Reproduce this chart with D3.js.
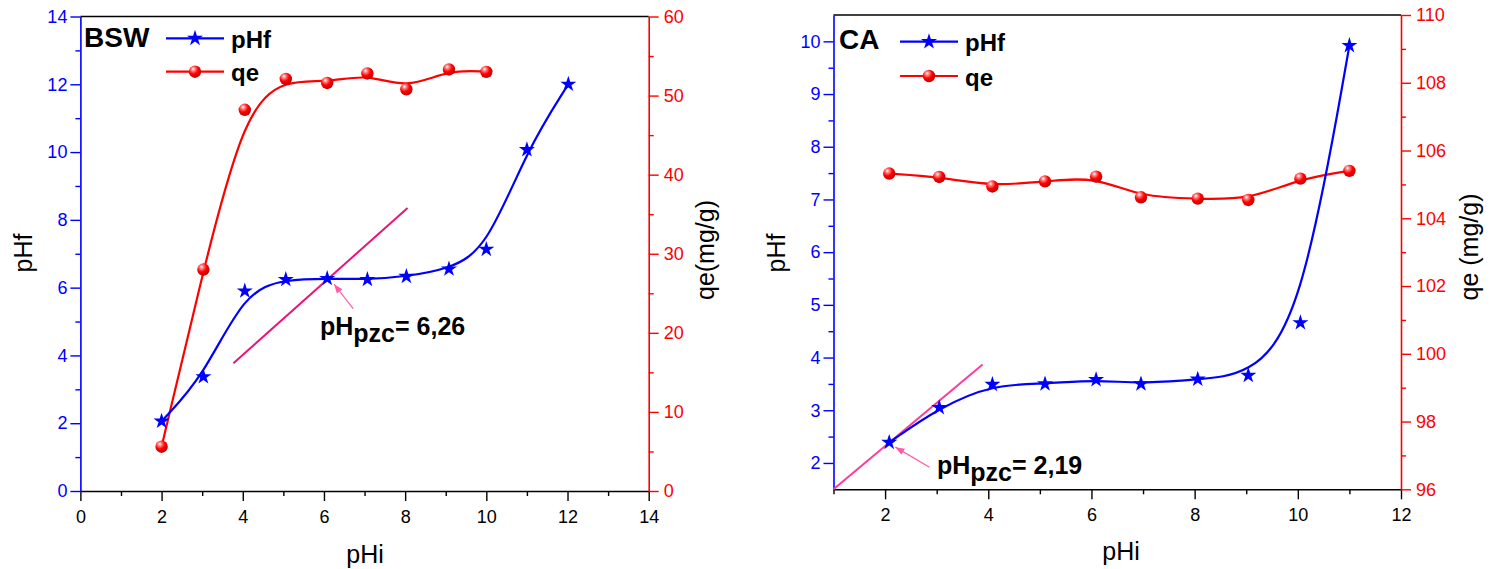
<!DOCTYPE html>
<html>
<head>
<meta charset="utf-8">
<script src="https://cdn.jsdelivr.net/npm/d3@7"></script>
<style>
  html, body { margin: 0; padding: 0; background: #fff; }
  svg { display: block; }
</style>
</head>
<body>
<div id="chart"></div>
<script>
(function () {
  "use strict";

  var FONT = "'Liberation Sans', Arial, sans-serif";
  var BLUE = "#0000ff", RED = "#ff0000";

  // ── BSW panel data ──
  var bswPhi = [2, 3.03, 4.05, 5.06, 6.08, 7.07, 8.03, 9.08, 10, 11, 12.02];
  var bswPhf = [2.06, 3.37, 5.9, 6.24, 6.27, 6.24, 6.33, 6.55, 7.13, 10.07, 12.0];
  var bswQePhi = [2, 3.03, 4.05, 5.06, 6.08, 7.07, 8.03, 9.08, 10];
  var bswQe = [5.6, 28.0, 48.2, 52.1, 51.6, 52.8, 50.8, 53.3, 53.0];
  var bswXTicks = [0, 2, 4, 6, 8, 10, 12, 14];
  var bswXMinor = [1, 3, 5, 7, 9, 11, 13];
  var bswYTicks = [0, 2, 4, 6, 8, 10, 12, 14];
  var bswYMinor = [1, 3, 5, 7, 9, 11, 13];
  var bswQeTicks = [0, 10, 20, 30, 40, 50, 60];
  var bswQeMinor = [5, 15, 25, 35, 45, 55];
  var bswTangent = [[3.77, 3.77], [8.06, 8.35]];
  var bswArrow = [[6.72, 5.38], [6.25, 6.1]];

  // ── CA panel data ──
  var caPhi = [2.08, 3.05, 4.08, 5.1, 6.09, 6.96, 8.06, 9.04, 10.05, 11.0];
  var caPhf = [2.39, 3.05, 3.49, 3.5, 3.58, 3.5, 3.59, 3.66, 4.66, 9.92];
  var caQe = [105.32, 105.22, 104.94, 105.09, 105.23, 104.62, 104.58, 104.54, 105.17, 105.4];
  var caXTicks = [2, 4, 6, 8, 10, 12];
  var caXMinor = [1, 3, 5, 7, 9, 11];
  var caYTicks = [2, 3, 4, 5, 6, 7, 8, 9, 10];
  var caYMinor = [2.5, 3.5, 4.5, 5.5, 6.5, 7.5, 8.5, 9.5];
  var caQeTicks = [96, 98, 100, 102, 104, 106, 108, 110];
  var caQeMinor = [97, 99, 101, 103, 105, 107, 109];
  var caTangent = [[1, 1.5], [3.89, 3.87]];
  var caArrow = [[2.86, 1.92], [2.2, 2.3]];

  var W = 1492, H = 569;
  var svg = d3.select("#chart").append("svg")
    .attr("width", W).attr("height", H)
    .attr("viewBox", "0 0 " + W + " " + H)
    .style("background", "#fff");

  // 3D-ish ball marker gradient
  var grad = svg.append("defs").append("radialGradient")
    .attr("id", "ball").attr("cx", "38%").attr("cy", "32%").attr("r", "70%")
    .attr("fx", "35%").attr("fy", "28%");
  grad.append("stop").attr("offset", "0%").attr("stop-color", "#ffffff");
  grad.append("stop").attr("offset", "22%").attr("stop-color", "#ff8080");
  grad.append("stop").attr("offset", "55%").attr("stop-color", "#ff0000");
  grad.append("stop").attr("offset", "100%").attr("stop-color", "#c00000");

  var star = d3.symbol().type(d3.symbolStar).size(80);

  function styleAxis(sel, color, labelColor) {
    sel.select(".domain").attr("stroke", color).attr("stroke-width", 1.6);
    sel.selectAll(".tick line").attr("stroke", color).attr("stroke-width", 1.4);
    sel.selectAll(".tick text").attr("fill", labelColor)
      .attr("font-family", FONT).attr("font-size", "18px");
  }

  function drawPanel(p) {
    var x = d3.scaleLinear().domain(p.xDomain).range([p.left, p.right]);
    var yL = d3.scaleLinear().domain(p.yDomain).range([p.bottom, p.top]);
    var yR = d3.scaleLinear().domain(p.qeDomain).range([p.bottom, p.top]);

    var g = svg.append("g");

    // top frame
    g.append("line").attr("x1", p.left).attr("x2", p.right)
      .attr("y1", p.top).attr("y2", p.top)
      .attr("stroke", "#000").attr("stroke-width", 1.6);

    // minor ticks
    g.append("g").attr("transform", "translate(0," + p.bottom + ")")
      .call(d3.axisBottom(x).tickValues(p.xMinor).tickSize(5).tickFormat(""))
      .call(function (s) { s.select(".domain").remove(); s.selectAll("line").attr("stroke", "#000").attr("stroke-width", 1.4); });
    g.append("g").attr("transform", "translate(" + p.left + ",0)")
      .call(d3.axisLeft(yL).tickValues(p.yMinor).tickSize(5).tickFormat(""))
      .call(function (s) { s.select(".domain").remove(); s.selectAll("line").attr("stroke", BLUE).attr("stroke-width", 1.4); });
    g.append("g").attr("transform", "translate(" + p.right + ",0)")
      .call(d3.axisRight(yR).tickValues(p.qeMinor).tickSize(5).tickFormat(""))
      .call(function (s) { s.select(".domain").remove(); s.selectAll("line").attr("stroke", RED).attr("stroke-width", 1.4); });

    // major axes
    g.append("g").attr("transform", "translate(0," + p.bottom + ")")
      .call(d3.axisBottom(x).tickValues(p.xTicks).tickSize(10).tickSizeOuter(0).tickPadding(9))
      .call(styleAxis, "#000", "#000");
    g.append("g").attr("transform", "translate(" + p.left + ",0)")
      .call(d3.axisLeft(yL).tickValues(p.yTicks).tickSize(10).tickSizeOuter(0).tickPadding(3))
      .call(styleAxis, BLUE, BLUE);
    g.append("g").attr("transform", "translate(" + p.right + ",0)")
      .call(d3.axisRight(yR).tickValues(p.qeTicks).tickSize(10).tickSizeOuter(0).tickPadding(5))
      .call(styleAxis, RED, RED);

    // axis titles
    g.append("text").attr("x", p.xTitle[0]).attr("y", p.xTitle[1])
      .attr("text-anchor", "middle").attr("font-family", FONT).attr("font-size", "25px")
      .text("pHi");
    g.append("text")
      .attr("transform", "translate(" + p.yTitle[0] + "," + p.yTitle[1] + ") rotate(-90)")
      .attr("text-anchor", "middle").attr("font-family", FONT).attr("font-size", "25px")
      .text("pHf");
    g.append("text")
      .attr("transform", "translate(" + p.qeTitle[0] + "," + p.qeTitle[1] + ") rotate(-90)")
      .attr("text-anchor", "middle").attr("font-family", FONT).attr("font-size", "25px")
      .text(p.qeLabel);

    // tangent line
    g.append("line")
      .attr("x1", x(p.tangent[0][0])).attr("y1", yL(p.tangent[0][1]))
      .attr("x2", x(p.tangent[1][0])).attr("y2", yL(p.tangent[1][1]))
      .attr("stroke", p.tangentColor).attr("stroke-width", 2);

    var line = d3.line().curve(d3.curveBasis);

    // qe curve + balls
    var qePts = p.qePhi.map(function (v, i) { return [x(v), yR(p.qe[i])]; });
    g.append("path").attr("d", line(qePts)).attr("fill", "none")
      .attr("stroke", RED).attr("stroke-width", 2.2);
    g.selectAll("circle.qe").data(qePts).enter().append("circle")
      .attr("class", "qe").attr("cx", function (d) { return d[0]; }).attr("cy", function (d) { return d[1]; })
      .attr("r", 6.2).attr("fill", "url(#ball)");

    // pHf curve + stars
    var phPts = p.phi.map(function (v, i) { return [x(v), yL(p.phf[i])]; });
    g.append("path").attr("d", line(phPts)).attr("fill", "none")
      .attr("stroke", BLUE).attr("stroke-width", 2.2);
    g.selectAll("path.star").data(phPts).enter().append("path")
      .attr("class", "star").attr("d", star)
      .attr("transform", function (d) { return "translate(" + d[0] + "," + d[1] + ")"; })
      .attr("fill", BLUE);

    // arrow to pzc
    var ax0 = x(p.arrow[0][0]), ay0 = yL(p.arrow[0][1]);
    var ax1 = x(p.arrow[1][0]), ay1 = yL(p.arrow[1][1]);
    var ang = Math.atan2(ay1 - ay0, ax1 - ax0);
    g.append("line").attr("x1", ax0).attr("y1", ay0).attr("x2", ax1).attr("y2", ay1)
      .attr("stroke", "#ff5aa8").attr("stroke-width", 1.2);
    var hl = 9, hw = 3.5;
    var bx = ax1 - hl * Math.cos(ang), by = ay1 - hl * Math.sin(ang);
    g.append("path")
      .attr("d", "M" + ax1 + "," + ay1 +
        "L" + (bx + hw * Math.sin(ang)) + "," + (by - hw * Math.cos(ang)) +
        "L" + (bx - hw * Math.sin(ang)) + "," + (by + hw * Math.cos(ang)) + "Z")
      .attr("fill", "#ff5aa8");

    // pzc label
    var lab = g.append("text").attr("x", p.labelPos[0]).attr("y", p.labelPos[1])
      .attr("font-family", FONT).attr("font-size", "25px").attr("font-weight", "bold");
    lab.append("tspan").text("pH");
    lab.append("tspan").attr("dy", 7).text("pzc");
    lab.append("tspan").attr("dy", -7).text("= " + p.pzc);

    // legend
    var L = p.legend;
    g.append("text").attr("x", L.titleX).attr("y", L.titleY)
      .attr("font-family", FONT).attr("font-size", "28px").attr("font-weight", "bold")
      .text(p.name);
    [[L.y1, BLUE, "pHf"], [L.y2, RED, "qe"]].forEach(function (row, i) {
      g.append("line").attr("x1", L.x).attr("x2", L.x + 58)
        .attr("y1", row[0]).attr("y2", row[0])
        .attr("stroke", row[1]).attr("stroke-width", 2.2);
      if (i === 0) {
        g.append("path").attr("d", star)
          .attr("transform", "translate(" + (L.x + 29) + "," + row[0] + ")").attr("fill", BLUE);
      } else {
        g.append("circle").attr("cx", L.x + 29).attr("cy", row[0]).attr("r", 6.2).attr("fill", "url(#ball)");
      }
      g.append("text").attr("x", L.x + 65).attr("y", row[0] + 9.5)
        .attr("font-family", FONT).attr("font-size", "24px").attr("font-weight", "bold")
        .text(row[2]);
    });
  }

  drawPanel({
    name: "BSW", left: 80.4, right: 648.7, top: 16.5, bottom: 491,
    xDomain: [0, 14], yDomain: [0, 14], qeDomain: [0, 60],
    xTicks: bswXTicks, xMinor: bswXMinor, yTicks: bswYTicks, yMinor: bswYMinor,
    qeTicks: bswQeTicks, qeMinor: bswQeMinor,
    phi: bswPhi, phf: bswPhf, qePhi: bswQePhi, qe: bswQe,
    tangent: bswTangent, tangentColor: "#e8157a", arrow: bswArrow,
    labelPos: [320, 335], pzc: "6,26",
    xTitle: [365, 563], yTitle: [32, 253], qeTitle: [714, 250], qeLabel: "qe(mg/g)",
    legend: { titleX: 84, titleY: 47.3, x: 166, y1: 38.3, y2: 71.7 }
  });

  drawPanel({
    name: "CA", left: 833.5, right: 1401, top: 15, bottom: 489.3,
    xDomain: [1, 12], yDomain: [1.5, 10.5], qeDomain: [96, 110],
    xTicks: caXTicks, xMinor: caXMinor, yTicks: caYTicks, yMinor: caYMinor,
    qeTicks: caQeTicks, qeMinor: caQeMinor,
    phi: caPhi, phf: caPhf, qePhi: caPhi, qe: caQe,
    tangent: caTangent, tangentColor: "#ff3c9a", arrow: caArrow,
    labelPos: [937, 474], pzc: "2,19",
    xTitle: [1121, 560], yTitle: [785, 253], qeTitle: [1478, 247], qeLabel: "qe (mg/g)",
    legend: { titleX: 839, titleY: 48.5, x: 900, y1: 41.7, y2: 76 }
  });
})();
</script>
</body>
</html>
